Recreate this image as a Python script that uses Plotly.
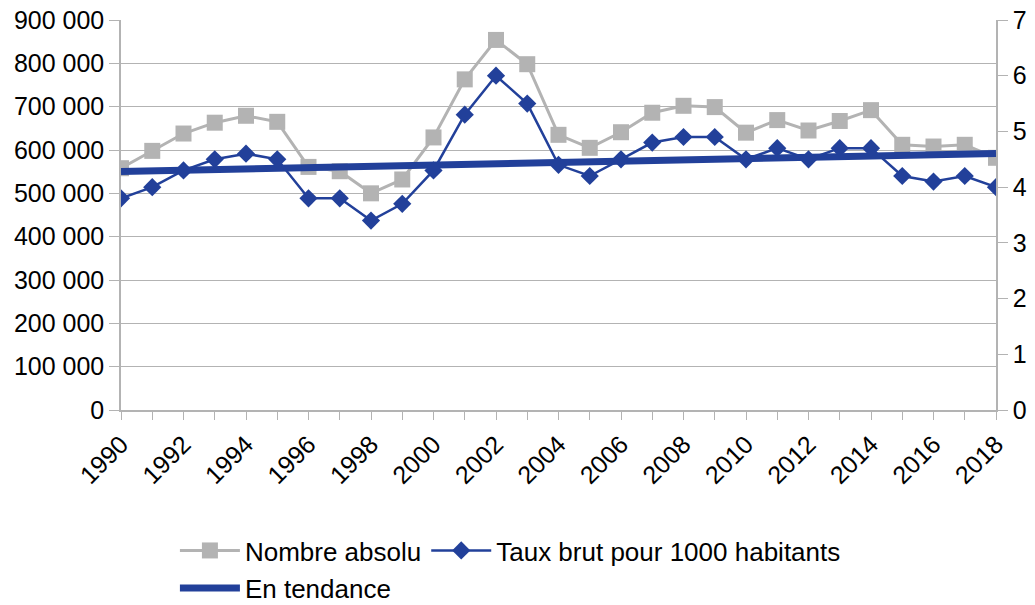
import numpy as np
import plotly.graph_objects as go

years = list(range(1990, 2019))
nombre_absolu = [558000, 598000, 638000, 663000, 679000, 665000, 561000, 551000, 500000, 532000,
                 629000, 763000, 854000, 798000, 635000, 605000, 641000, 686000, 702000, 699000,
                 640000, 669000, 645000, 667000, 692000, 612000, 608000, 612000, 582000]
taux_brut = [3.8, 4.0, 4.3, 4.5, 4.6, 4.5, 3.8, 3.8, 3.4, 3.7,
             4.3, 5.3, 6.0, 5.5, 4.4, 4.2, 4.5, 4.8, 4.9, 4.9,
             4.5, 4.7, 4.5, 4.7, 4.7, 4.2, 4.1, 4.2, 4.0]
tick_years = [str(y) if y % 2 == 0 else "" for y in years]

# linear trend of the crude rate
coef = np.polyfit(years, taux_brut, 1)
trend = list(np.polyval(coef, [years[0], years[-1]]))

GRAY = "#b3b3b3"
BLUE = "#22409a"
FONT = "Liberation Sans, Arial, sans-serif"
FS = 25
FSL = 26

fig = go.Figure()
fig.add_trace(go.Scatter(
    x=years, y=nombre_absolu, name="Nombre absolu", mode="lines+markers",
    line=dict(color=GRAY, width=3), marker=dict(symbol="square", size=16, color=GRAY),
    yaxis="y", legend="legend"))
fig.add_trace(go.Scatter(
    x=[years[0], years[-1]], y=trend, name="En tendance", mode="lines",
    line=dict(color=BLUE, width=7), yaxis="y2", legend="legend2"))
fig.add_trace(go.Scatter(
    x=years, y=taux_brut, name="Taux brut pour 1000 habitants", mode="lines+markers",
    line=dict(color=BLUE, width=2.5), marker=dict(symbol="diamond", size=14, color=BLUE),
    yaxis="y2", legend="legend"))

fig.update_layout(
    width=1035, height=605,
    margin=dict(l=121, r=39, t=20, b=195),
    paper_bgcolor="white", plot_bgcolor="white",
    font=dict(family=FONT, size=FS, color="black"),
    separators=", ",
    xaxis=dict(range=[1990, 2018], tickmode="array", tickvals=years, ticktext=tick_years,
               tickangle=-45, ticks="outside", ticklen=8, tickcolor=GRAY, automargin=False,
               ticklabeloverflow="allow",
               showline=True, linecolor=GRAY, linewidth=1.5, showgrid=False, zeroline=False),
    yaxis=dict(range=[0, 900000], dtick=100000, tickformat=",d", ticks="outside", ticklen=10,
               tickcolor=GRAY, showline=True, linecolor=GRAY, linewidth=1.5, automargin=False,
               ticklabeloverflow="allow",
               gridcolor=GRAY, gridwidth=1, zeroline=False),
    yaxis2=dict(range=[0, 7], dtick=1, overlaying="y", side="right", ticks="outside",
                ticklen=10, tickcolor=GRAY, showline=True, linecolor=GRAY, linewidth=1.5,
                ticklabeloverflow="allow",
                automargin=False, showgrid=False, zeroline=False),
    legend=dict(orientation="h", xref="container", yref="container", x=0.169, y=0.090,
                xanchor="left", yanchor="middle", itemwidth=60,
                font=dict(family=FONT, size=FSL), bgcolor="rgba(0,0,0,0)"),
    legend2=dict(orientation="h", xref="container", yref="container", x=0.169, y=0.028,
                 xanchor="left", yanchor="middle", itemwidth=60,
                 font=dict(family=FONT, size=FSL), bgcolor="rgba(0,0,0,0)"),
)

fig.write_html("out.html", config={"displayModeBar": False},
               post_script="document.body.style.margin='0';")
